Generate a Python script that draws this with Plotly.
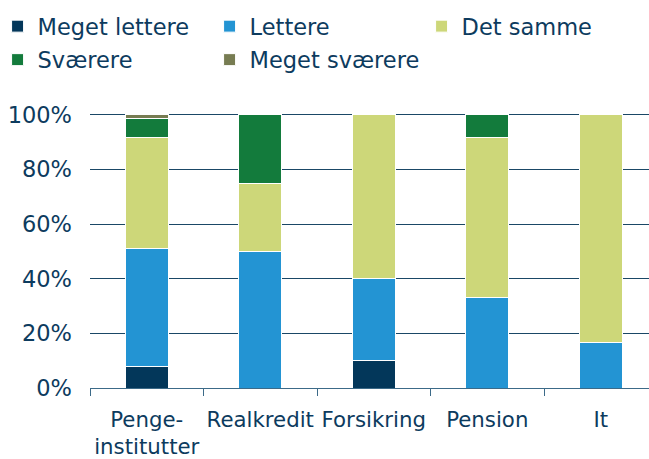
import plotly.graph_objects as go

categories = ["Penge-<br>institutter", "Realkredit", "Forsikring", "Pension", "It"]
series_names = ["Meget lettere", "Lettere", "Det samme", "Sværere", "Meget sværere"]
meget_lettere = [8, 0, 10, 0, 0]
lettere = [43, 50, 30, 33.3, 16.7]
det_samme = [40.5, 25, 60, 58.4, 83.3]
svaerere = [7, 25, 0, 8.3, 0]
meget_svaerere = [1.5, 0, 0, 0, 0]
y_ticks = [0, 20, 40, 60, 80, 100]
y_tick_labels = ["0%", "20%", "40%", "60%", "80%", "100%"]

colors = ["#03375A", "#2394D3", "#CDD779", "#137B3C", "#777C52"]
legend_rows = ["legend", "legend", "legend", "legend2", "legend2"]
text_color = "#0D3B5E"
font_family = "DejaVu Sans, Verdana, sans-serif"

values = [meget_lettere, lettere, det_samme, svaerere, meget_svaerere]

W, H = 649, 459
L, R, T, B = 89.5, 0, 112, 71
pw, ph = W - L - R, H - T - B

fig = go.Figure()
for name, vals, col, lg in zip(series_names, values, colors, legend_rows):
    fig.add_trace(go.Bar(
        x=categories, y=vals, name=name, legend=lg,
        marker=dict(color=col, line=dict(color="white", width=1)),
        width=0.38,
    ))

def legend_cfg(top_px):
    return dict(
        orientation="h",
        x=(-3 - L) / pw, y=1 + (T - top_px) / ph,
        xanchor="left", yanchor="top",
        font=dict(size=22.5, color=text_color),
        entrywidth=167,
        traceorder="normal",
        bgcolor="rgba(0,0,0,0)",
    )

fig.update_layout(
    barmode="stack",
    width=W, height=H,
    margin=dict(l=L, r=R, t=T, b=B, autoexpand=False),
    paper_bgcolor="white", plot_bgcolor="white",
    font=dict(family=font_family, size=22.5, color=text_color),
    showlegend=True,
    legend=legend_cfg(5),
    legend2=legend_cfg(38.5),
)

fig.update_xaxes(
    range=[-0.5, 4.425],
    automargin=False,
    tickangle=0,
    showline=True, linecolor="#3C6A88", linewidth=1,
    ticks="outside", tickson="boundaries", ticklen=7, tickcolor="#3C6A88",
    showgrid=False,
    ticklabelstandoff=12,
    tickfont=dict(size=21.3, color=text_color),
)
fig.update_yaxes(
    range=[0, 101],
    automargin=False,
    tickvals=y_ticks, ticktext=y_tick_labels,
    showgrid=True, gridcolor="#1A4766", gridwidth=1,
    zeroline=False, showline=False,
    ticks="", ticklabelstandoff=17,
    tickfont=dict(size=22.5, color=text_color),
)

fig.write_html("out.html", config={"displayModeBar": False},
               post_script="document.body.style.margin='0';")
